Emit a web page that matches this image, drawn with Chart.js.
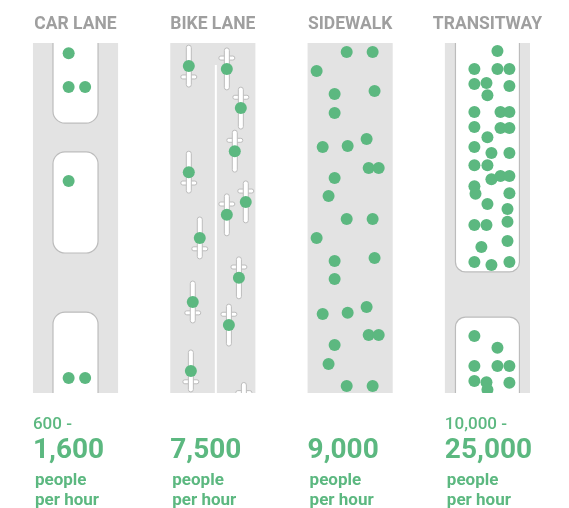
<!DOCTYPE html>
<html>
<head>
<meta charset="utf-8">
<script src="https://cdn.jsdelivr.net/npm/chart.js@4.4.0/dist/chart.umd.min.js"></script>
<style>
  html, body { margin: 0; padding: 0; background: #fff; }
  canvas { display: block; }
</style>
</head>
<body>
<canvas id="laneChart" width="569" height="508"></canvas>
<script>
// lanes, left to right
let lanes = ['CAR LANE', 'BIKE LANE', 'SIDEWALK', 'TRANSITWAY'];
// people per hour (low end of range, high end)
let lowPeople = [600, null, null, 10000];
let highPeople = [1600, 7500, 9000, 25000];

// dots = people. [offset from lane centre, distance down the lane 0..100]
let carPeople = [
  [-0.05, 2.9], [-0.05, 12.6], [0.07, 12.6],
  [-0.05, 39.4],
  [-0.05, 95.7], [0.07, 95.7]
];
// riders: [offset, distance, heading] heading 1 = going down, -1 = going up
let bikeRiders = [
  [-0.175, 6.6, 1], [-0.175, 36.9, 1], [-0.095, 55.7, 1], [-0.146, 74, 1], [-0.16, 93.7, 1],
  [0.102, 7.4, -1], [0.204, 18.6, -1], [0.16, 30.9, -1], [0.24, 45.4, -1],
  [0.102, 49.1, -1], [0.19, 67.1, -1], [0.117, 80.6, -1]
];
// bikes with nobody on them yet (cut off at the bottom)
let emptyBikes = [[0.226, 103, -1]];
let walkers = [
  [-0.025, 2.6], [0.164, 2.6], [-0.244, 8], [-0.113, 14.6], [0.178, 13.7], [-0.113, 20],
  [-0.2, 29.7], [-0.018, 29.4], [0.12, 27.4], [0.135, 35.7], [0.208, 35.7], [-0.113, 38.6],
  [-0.157, 43.7], [-0.025, 50.3], [0.164, 50.3], [-0.244, 55.7], [-0.113, 62.3], [0.178, 61.4],
  [-0.113, 67.4], [-0.2, 77.4], [-0.018, 77.1], [0.12, 75.4], [0.135, 83.4], [0.208, 83.4],
  [-0.113, 86.3], [-0.157, 91.7], [-0.025, 98], [0.164, 98]
];
let transitRiders = [
  [0.073, 2.3], [-0.095, 7.4], [0.073, 7.4], [0.16, 7.4], [-0.095, 11.7], [-0.007, 11.4],
  [0.16, 12.3], [0, 14.9], [-0.095, 19.7], [0.095, 19.7], [0.16, 19.7], [-0.095, 24],
  [0.095, 24.3], [0.16, 24.3], [0, 26.9], [-0.095, 29.7], [0.029, 31.4], [0.16, 31.4],
  [-0.095, 34.9], [0, 34.9], [0.029, 38.9], [0.095, 38], [0.16, 38], [-0.095, 40.9],
  [-0.087, 43.1], [0.16, 42.9], [0, 46], [0.146, 47.4], [-0.095, 52], [-0.007, 52],
  [0.146, 51.1], [-0.044, 58.3], [0.146, 56.6], [-0.095, 62.6], [0.029, 63.4], [0.16, 62.6],
  [-0.095, 83.7], [0.073, 87.1], [-0.095, 92.3], [0.073, 92.3], [0.16, 92.3],
  [-0.095, 96.6], [-0.007, 96.9], [0.16, 97.1], [0, 99.1]
];
// vehicles: [start, end] along the lane
let cars = [[-5, 22.9], [31.1, 60], [76.9, 105]];
let buses = [[-5, 65.4], [78.3, 105]];

const laneHalf = 0.31;
const green = '#5cb880';
const laneGrey = '#e3e3e3';
const lineGrey = '#bcbcbc';

function rr(ctx, x, y, w, h, r) {
  ctx.beginPath();
  ctx.roundRect(x, y, w, h, r);
}

const roadPlugin = {
  id: 'road',
  beforeDatasetsDraw(chart) {
    const ctx = chart.ctx;
    const xs = chart.scales.x, ys = chart.scales.y;
    const top = ys.getPixelForValue(0), bottom = ys.getPixelForValue(100);
    ctx.save();
    lanes.forEach((name, i) => {
      const l = xs.getPixelForValue(i - laneHalf), r = xs.getPixelForValue(i + laneHalf);
      ctx.fillStyle = laneGrey;
      ctx.fillRect(l, top, r - l, bottom - top);
    });

    // cars and buses, clipped to their lane
    function bodies(list, lane, half, radius) {
      const l = xs.getPixelForValue(lane - laneHalf), r = xs.getPixelForValue(lane + laneHalf);
      ctx.save();
      ctx.beginPath();
      ctx.rect(l, top, r - l, bottom - top);
      ctx.clip();
      list.forEach(v => {
        const x0 = xs.getPixelForValue(lane - half), x1 = xs.getPixelForValue(lane + half);
        const y0 = ys.getPixelForValue(v[0]), y1 = ys.getPixelForValue(v[1]);
        rr(ctx, x0, y0, x1 - x0, y1 - y0, radius);
        ctx.fillStyle = '#fff';
        ctx.fill();
        ctx.lineWidth = 1.2;
        ctx.strokeStyle = lineGrey;
        ctx.stroke();
      });
      ctx.restore();
    }
    bodies(cars, 0, 0.164, 12);
    bodies(buses, 3, 0.233, 10);

    // bike lane divider
    const dx = xs.getPixelForValue(1.022);
    ctx.strokeStyle = '#fff';
    ctx.lineWidth = 2;
    ctx.beginPath();
    ctx.moveTo(dx, ys.getPixelForValue(6.3));
    ctx.lineTo(dx, bottom);
    ctx.stroke();

    // bike frames
    const bl = xs.getPixelForValue(1 - laneHalf), br = xs.getPixelForValue(1 + laneHalf);
    ctx.save();
    ctx.beginPath();
    ctx.rect(bl, top, br - bl, bottom - top);
    ctx.clip();
    bikeRiders.concat(emptyBikes).forEach(b => {
      const cx = xs.getPixelForValue(1 + b[0]);
      const hy = ys.getPixelForValue(b[1] + 3.1 * b[2]);
      const y0 = ys.getPixelForValue(b[1] - 6), y1 = ys.getPixelForValue(b[1] + 6);
      ctx.lineWidth = 1;
      ctx.strokeStyle = lineGrey;
      ctx.fillStyle = '#fff';
      rr(ctx, cx - 8, hy - 2, 16, 4, 2);
      ctx.fill();
      ctx.stroke();
      rr(ctx, cx - 2.5, y0, 5, y1 - y0, 2.5);
      ctx.fill();
      ctx.stroke();
    });
    ctx.restore();
    ctx.restore();
  },
  afterDatasetsDraw(chart) {
    const ctx = chart.ctx;
    const xs = chart.scales.x, ys = chart.scales.y;
    const top = ys.getPixelForValue(0), bottom = ys.getPixelForValue(100);
    ctx.save();
    // keep people inside the lanes
    ctx.fillStyle = '#fff';
    ctx.fillRect(0, 0, chart.width, top);
    ctx.fillRect(0, bottom, chart.width, chart.height - bottom);

    ctx.textBaseline = 'middle';
    lanes.forEach((name, i) => {
      ctx.fillStyle = '#9f9f9f';
      ctx.textAlign = 'center';
      ctx.font = 'bold 17.5px Roboto';
      ctx.fillText(name, xs.getPixelForValue(i), ys.getPixelForValue(-5.2));

      const left = xs.getPixelForValue(i - laneHalf);
      ctx.textAlign = 'left';
      ctx.fillStyle = green;
      if (lowPeople[i] != null) {
        ctx.font = '500 17px Roboto';
        ctx.fillText(lowPeople[i].toLocaleString('en-US') + ' -', left, ys.getPixelForValue(109.1));
      }
      ctx.font = 'bold 28px Roboto';
      ctx.fillText(highPeople[i].toLocaleString('en-US'), left, ys.getPixelForValue(116.6));
      ctx.font = 'bold 17px Roboto';
      ctx.fillText('people', left + 2, ys.getPixelForValue(125));
      ctx.fillText('per hour', left + 2, ys.getPixelForValue(130.7));
    });
    ctx.restore();
  }
};

function laneDots(list, lane) {
  return list.map(p => ({ x: lane + p[0], y: p[1] }));
}

new Chart(document.getElementById('laneChart').getContext('2d'), {
  type: 'scatter',
  data: {
    datasets: [
      { label: lanes[0], data: laneDots(carPeople, 0) },
      { label: lanes[1], data: laneDots(bikeRiders, 1) },
      { label: lanes[2], data: laneDots(walkers, 2) },
      { label: lanes[3], data: laneDots(transitRiders, 3) }
    ]
  },
  options: {
    responsive: false,
    animation: false,
    layout: { padding: 0, autoPadding: false },
    elements: {
      point: { radius: 6, hoverRadius: 6, backgroundColor: green, borderWidth: 0 }
    },
    scales: {
      x: { type: 'linear', display: false, min: -0.55, max: 3.594 },
      y: { type: 'linear', display: false, min: -12.29, max: 132.86, reverse: true }
    },
    plugins: {
      legend: { display: false },
      tooltip: { enabled: false }
    }
  },
  plugins: [roadPlugin]
});
</script>
</body>
</html>
